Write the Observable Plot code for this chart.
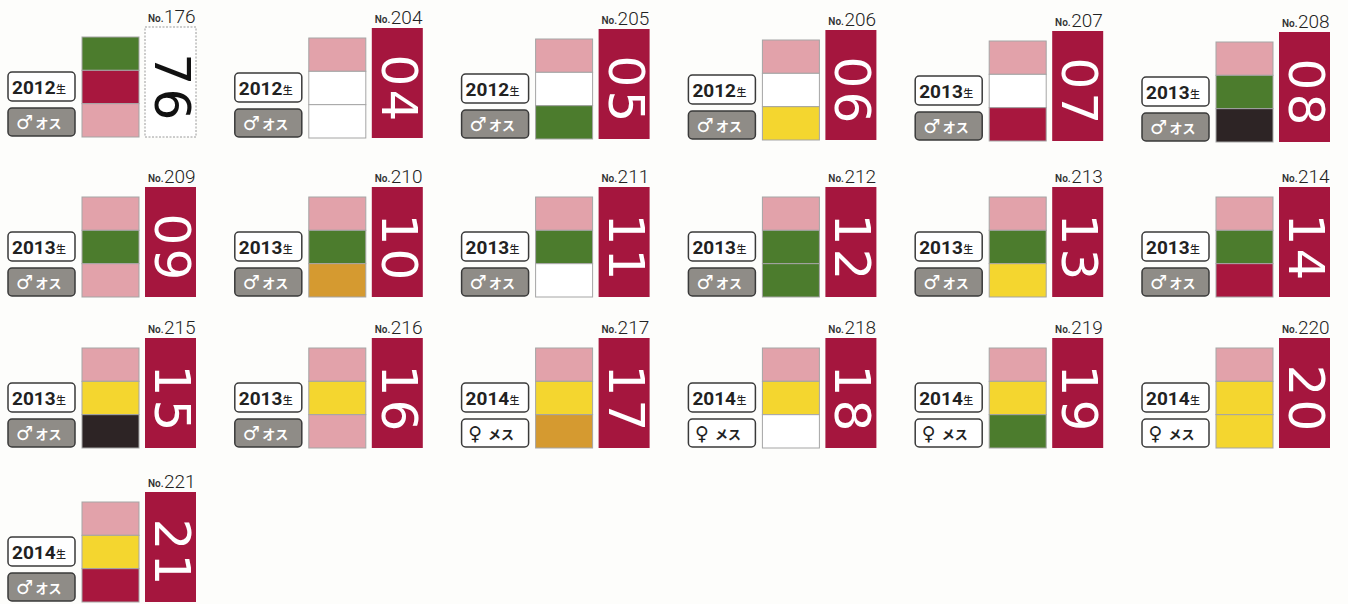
<!DOCTYPE html>
<html><head><meta charset="utf-8">
<script src="https://cdn.jsdelivr.net/npm/d3@7"></script>
<script src="https://cdn.jsdelivr.net/npm/@observablehq/plot@0.6"></script>
<style>
html,body{margin:0;padding:0;background:#fdfdfb;}
#chart svg{display:block;}
</style></head><body><div id="chart"></div>
<script>
// ---- data ----
const ids     = [176,204,205,206,207,208,209,210,211,212,213,214,215,216,217,218,219,220,221];
const plates  = ["76","04","05","06","07","08","09","10","11","12","13","14","15","16","17","18","19","20","21"];
const plateKind = ["white","red","red","red","red","red","red","red","red","red","red","red","red","red","red","red","red","red","red"];
const years   = [2012,2012,2012,2012,2013,2013,2013,2013,2013,2013,2013,2013,2013,2013,2014,2014,2014,2014,2014];
const sexes   = ["male","male","male","male","male","male","male","male","male","male","male","male","male","male","female","female","female","female","male"];
const bandTop = ["green","pink","pink","pink","pink","pink","pink","pink","pink","pink","pink","pink","pink","pink","pink","pink","pink","pink","pink"];
const bandMid = ["red","white","white","white","white","green","green","green","green","green","green","green","yellow","yellow","yellow","yellow","yellow","yellow","yellow"];
const bandBot = ["pink","white","green","yellow","red","black","pink","orange","white","green","yellow","red","black","pink","orange","white","green","yellow","red"];

// ---- styles / layout ----
const bandColor = {pink:"#e2a2aa", green:"#4c7c2d", red:"#a8173e", white:"#ffffff", yellow:"#f4d62f", orange:"#d59a30", black:"#2d2425"};
const plateFill = {white:"#ffffff", red:"#a5163e"};
const COL_STEP = 226.8;
const ROW_Y = [0, 160, 311, 465];

const tags = ids.map((id, i) => {
  const col = i % 6, row = Math.floor(i / 6);
  return {
    id, plate: plates[i], kind: plateKind[i], year: years[i], sex: sexes[i],
    bands: [bandTop[i], bandMid[i], bandBot[i]],
    x0: col * COL_STEP, y0: ROW_Y[row] + (row === 0 ? col : 0)
  };
});
const bandRows = tags.flatMap(t => t.bands.map((c, k) => ({...t, k, c})));
const digits = tags.flatMap(t => t.plate.split("").map((ch, k) => ({...t, k, ch})));
const BH = 100/3;

const svg = Plot.plot({
  width: 1348, height: 604, margin: 0,
  x: {domain: [0, 1348], range: [0, 1348], axis: null},
  y: {domain: [0, 604], range: [0, 604], axis: null},
  style: {background: "transparent"},
  marks: [
    // colour bands
    Plot.rect(bandRows, {
      x1: d => d.x0 + 82, x2: d => d.x0 + 139,
      y1: d => d.y0 + 37 + d.k * BH, y2: d => d.y0 + 37 + (d.k + 1) * BH,
      fill: d => bandColor[d.c], stroke: "#a5a5a5", strokeWidth: 1
    }),
    // number plates
    Plot.rect(tags.filter(d => d.kind === "red"), {
      x1: d => d.x0 + 145, x2: d => d.x0 + 196, y1: d => d.y0 + 27, y2: d => d.y0 + 137,
      fill: d => plateFill[d.kind]
    }),
    Plot.rect(tags.filter(d => d.kind === "white"), {
      x1: d => d.x0 + 145, x2: d => d.x0 + 196, y1: d => d.y0 + 27, y2: d => d.y0 + 137,
      fill: d => plateFill[d.kind], stroke: "#9a9a9a", strokeWidth: 1, strokeDasharray: "2,1.5"
    }),
    Plot.text(digits, {
      x: d => d.x0 + 170.5, y: d => d.y0 + 69 + d.k * 35,
      text: "ch", rotate: 90, fontSize: 50, fontFamily: "DejaVu Sans",
      fill: d => d.kind === "white" ? "#111" : "#ffffff",
      textAnchor: "middle", lineAnchor: "middle"
    }),
    // No. labels
    Plot.text(tags, {
      x: d => d.x0 + 163, y: d => d.y0 + 18.5, text: () => "No.",
      fontSize: 10, fontWeight: 600, fontFamily: "Roboto", fill: "#333",
      textAnchor: "end", lineAnchor: "middle"
    }),
    Plot.text(tags, {
      x: d => d.x0 + 163.5, y: d => d.y0 + 16.5, text: d => String(d.id),
      fontSize: 19, fontWeight: 300, fontFamily: "Roboto", fill: "#222",
      textAnchor: "start", lineAnchor: "middle"
    }),
    // year badge
    Plot.rect(tags, {
      x1: d => d.x0 + 8, x2: d => d.x0 + 75, y1: d => d.y0 + 72, y2: d => d.y0 + 101,
      fill: "#ffffff", stroke: "#3a3a3a", strokeWidth: 1.5, rx: 4
    }),
    Plot.text(tags, {
      x: d => d.x0 + 11.5, y: d => d.y0 + 87, text: d => String(d.year),
      fontSize: 19, fontWeight: 700, fontFamily: "Roboto", fill: "#222",
      textAnchor: "start", lineAnchor: "middle"
    }),
    Plot.text(tags, {
      x: d => d.x0 + 55.5, y: d => d.y0 + 89, text: () => "生",
      fontSize: 10, fontWeight: 500, fontFamily: "Noto Sans CJK JP", fill: "#222",
      textAnchor: "start", lineAnchor: "middle"
    }),
    // sex badge
    Plot.rect(tags, {
      x1: d => d.x0 + 8, x2: d => d.x0 + 75, y1: d => d.y0 + 108, y2: d => d.y0 + 136,
      fill: d => d.sex === "male" ? "#8f8c87" : "#ffffff", stroke: "#3a3a3a", strokeWidth: 1.5, rx: 4
    }),
    Plot.text(tags, {
      x: d => d.x0 + (d.sex === "male" ? 24 : 21), y: d => d.y0 + 122,
      text: d => d.sex === "male" ? "♂" : "♀",
      fontSize: 19, fontWeight: 700, fontFamily: "DejaVu Sans",
      fill: d => d.sex === "male" ? "#ffffff" : "#222",
      textAnchor: "middle", lineAnchor: "middle"
    }),
    Plot.text(tags, {
      x: d => d.x0 + (d.sex === "male" ? 35 : 34), y: d => d.y0 + 123,
      text: d => d.sex === "male" ? "オス" : "メス",
      fontSize: 13, fontWeight: 700, fontFamily: "Noto Sans CJK JP",
      fill: d => d.sex === "male" ? "#ffffff" : "#222",
      textAnchor: "start", lineAnchor: "middle"
    })
  ]
});
document.getElementById("chart").appendChild(svg);
</script>
</body></html>
